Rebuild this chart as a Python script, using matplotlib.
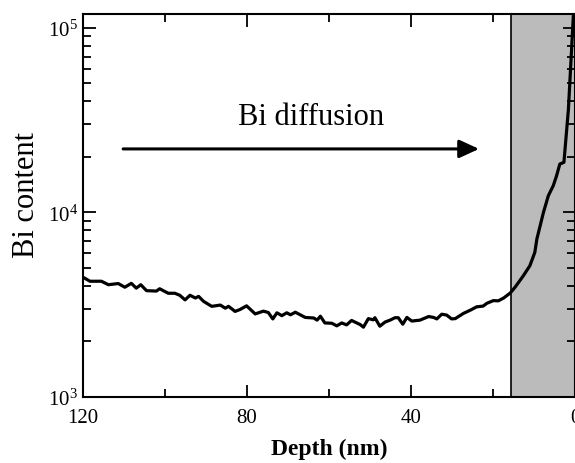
import matplotlib
matplotlib.use("Agg")
import matplotlib.pyplot as plt
from matplotlib.ticker import LogLocator, MultipleLocator, NullFormatter

plt.rcParams["font.family"] = ["Liberation Serif", "DejaVu Serif"]
plt.rcParams["mathtext.fontset"] = "custom"
plt.rcParams["mathtext.rm"] = "Liberation Serif"
plt.rcParams["mathtext.it"] = "Liberation Serif:italic"

# depth profile (nm, counts)
depth = [120.0, 118.3, 115.5, 113.8, 111.4, 109.8, 108.2, 107.0, 105.9, 104.5,
         102.1, 101.3, 99.2, 97.6, 96.4, 95.1, 93.9, 92.6, 91.8, 90.6,
         88.6, 86.5, 85.3, 84.5, 82.9, 81.7, 80.1, 78.0, 76.0, 74.8,
         73.7, 72.7, 71.5, 70.3, 69.4, 68.2, 65.8, 63.7, 62.9, 62.1,
         61.0, 59.3, 58.1, 56.9, 55.7, 54.5, 52.4, 51.6, 50.4, 49.2,
         48.8, 47.6, 46.3, 45.1, 43.9, 43.1, 42.0, 41.0, 39.8, 37.8,
         35.7, 34.5, 33.7, 32.5, 31.3, 30.1, 29.2, 27.2, 25.6, 24.0,
         22.4, 21.5, 19.9, 18.7, 17.4, 15.8, 14.6, 12.6, 11.0, 9.8,
         9.3, 7.7, 6.5, 5.3, 4.5, 3.7, 2.7, 1.6, 0.4]
counts = [4460, 4240, 4240, 4060, 4120, 3935, 4130, 3890, 4060, 3770,
          3750, 3860, 3650, 3650, 3560, 3360, 3560, 3440, 3510, 3300,
          3100, 3150, 3030, 3100, 2910, 2980, 3120, 2820, 2920, 2870,
          2650, 2860, 2760, 2860, 2790, 2880, 2700, 2680, 2610, 2740,
          2520, 2510, 2430, 2520, 2460, 2600, 2470, 2390, 2660, 2620,
          2690, 2420, 2550, 2610, 2690, 2690, 2480, 2700, 2580, 2610,
          2730, 2700, 2650, 2810, 2780, 2650, 2660, 2840, 2950, 3080,
          3110, 3220, 3330, 3320, 3440, 3660, 3940, 4540, 5150, 6080,
          7180, 10000, 12330, 13970, 15800, 18300, 18700, 36400, 117000]

substrate_edge = 15.6
arrow_start, arrow_end, arrow_level = 110.2, 23.4, 2.21e4

fig = plt.figure(figsize=(5.75, 4.64), dpi=100)
ax = fig.add_axes([0.1443, 0.1422, 0.8557, 0.8255])

ax.axvspan(substrate_edge, 0, facecolor="#bbbbbb", edgecolor="none", zorder=0)
ax.axvline(substrate_edge, color="black", linewidth=1.2, zorder=1)
ax.plot(depth, counts, color="black", linewidth=2.3, zorder=3)

ax.annotate("", xy=(arrow_end, arrow_level), xytext=(arrow_start, arrow_level),
            arrowprops=dict(arrowstyle="-|>,head_length=1.2,head_width=0.55",
                            color="black", linewidth=2.2, shrinkA=0, shrinkB=0))
ax.text(64.3, 3.3e4, "Bi diffusion", ha="center", va="center", fontsize=22)

ax.set_yscale("log")
ax.set_xlim(120, 0)
ax.set_ylim(1e3, 1.19e5)
ax.xaxis.set_major_locator(MultipleLocator(40))
ax.xaxis.set_minor_locator(MultipleLocator(20))
ax.yaxis.set_major_locator(LogLocator(base=10, numticks=10))
ax.yaxis.set_minor_locator(LogLocator(base=10, subs=range(2, 10), numticks=20))
ax.yaxis.set_minor_formatter(NullFormatter())
ax.tick_params(which="both", direction="in", top=True, right=True, width=1.3,
               labelsize=15)
ax.tick_params(which="major", length=9)
ax.tick_params(which="minor", length=6)
ax.tick_params(axis="x", pad=8)
for spine in ax.spines.values():
    spine.set_linewidth(1.5)

ax.set_xlabel("Depth (nm)", fontsize=17, fontweight="bold", labelpad=8)
ax.set_ylabel("Bi content", fontsize=22)
ax.yaxis.set_label_coords(-0.085, 0.53)

fig.savefig("out.png", dpi=100)
